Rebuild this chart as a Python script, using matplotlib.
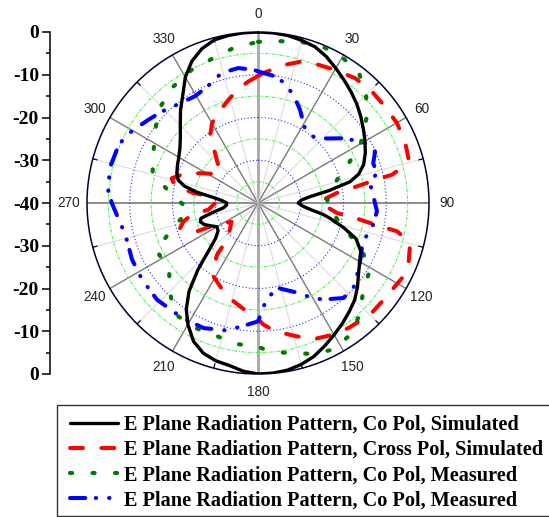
import numpy as np
import matplotlib
matplotlib.use("Agg")
import matplotlib.pyplot as plt
from matplotlib.patches import Rectangle

# ---- E-plane radiation pattern data (angle in degrees, level in dB) ----
co_sim_ang = [0, 5, 10, 15, 20, 25, 30, 35, 40, 45, 50, 55, 60, 65, 70, 74, 77, 80,
              83, 86, 90, 94, 97, 100, 102, 106, 110, 115, 120, 125, 130, 135, 140,
              145, 150, 155, 160, 165, 170, 175, 180, 185, 190, 195, 200, 205, 210,
              214, 218, 222, 226, 230, 235, 240, 244, 248, 252, 255, 258, 262, 266,
              270, 274, 277, 280, 283, 286, 290, 295, 300, 305, 310, 315, 320, 325,
              330, 335, 340, 345, 350, 355, 360]
co_sim_db = [0, -0.05, -0.2, -0.6, -1.1, -2.2, -3.6, -4.9, -6.1, -7.3, -8.6, -9.9, -11.1,
             -12.3, -13.7, -15.5, -17.9, -23, -27.7, -29.8, -30.6, -29.5, -27.7, -24.5,
             -22.8, -19.2, -15.6, -13.5, -12.5, -11.3, -9.6, -8, -6.8, -5.6, -4.4, -3.1,
             -1.8, -0.9, -0.3, -0.05, 0, -0.5, -1.4, -1.8, -2.6, -4.3, -7.2, -10, -13.8,
             -19, -24, -27, -28.6, -28.9, -27.8, -26.5, -25.8, -26.2, -29, -31.8, -32.6,
             -32.7, -31.5, -29.5, -25.5, -22.3, -20.6, -19.8, -19.2, -18.6, -17.7, -16.3,
             -14.3, -11.8, -9.3, -6, -3.4, -1.6, -0.5, -0.2, -0.05, 0]

cross_sim_ang = [0, 2.3, 10.5, 16.7, 23.7, 30.2, 38, 45.7, 52.9, 60.2, 67.9, 73.5, 76,
                 78.1, 78.8, 80.5, 81.9, 86, 90, 93, 97.2, 98.8, 100.5, 101.5, 104.7,
                 111.7, 117.5, 127.6, 134.8, 144.1, 150.1, 157.8, 163.7, 172.3, 177.4,
                 178.9, 188.7, 195, 201.3, 211.2, 215, 218.4, 220.2, 227, 234.6, 242.9,
                 245.1, 252, 256, 260, 262.3, 270, 277.8, 278.8, 282, 286, 292.1, 298.5,
                 303, 308, 314, 319.3, 324.2, 330, 334.9, 344, 350, 355.4, 360]
cross_sim_db = [-10.3, -9.6, -7.2, -5.5, -4.7, -4.0, -3.0, -2.7, -2.7, -2.5, -2.8, -3.3, -5,
                -8, -12, -16.6, -20.6, -24, -25.5, -24, -21.4, -16.9, -12.1, -6.8, -3.2,
                -2.1, -2.0, -2.9, -3.0, -3.9, -4.5, -5.6, -7.5, -9.7, -11.5, -12.3, -15.2,
                -16.5, -17.8, -19.9, -22, -24.6, -28.8, -31, -32.4, -28.7, -24.2, -20.8,
                -22, -24.3, -28.3, -30, -28.7, -24.7, -20, -19, -21.6, -25.4, -27.5, -28.7,
                -27, -24.6, -20.8, -18.5, -17.2, -14.9, -13, -11.5, -10.3]

co_meas_ang = [0, 6.6, 13.8, 21.2, 29.4, 38.1, 45.3, 52, 59.9, 66.5, 76.4, 84, 92.2, 105.7,
               114, 120.8, 129.7, 137, 144, 153.1, 160.6, 168, 175.6, 180.5, 189.3, 198.4,
               207.9, 217.7, 226, 232.8, 245.4, 252.8, 264.5, 276.5, 285.5, 295.5, 304.4,
               312.9, 322.6, 333.5, 343, 351, 360]
co_meas_db = [-2.3, -1.9, -1.1, -0.35, -0.5, -1.6, -4.4, -7.8, -12.2, -16.9, -21.8, -23.5,
              -23.9, -19.3, -13.6, -9.5, -8, -5, -2.4, -1.5, -2.6, -4.1, -5.2, -6.5, -6.6,
              -7.5, -7.2, -7.6, -11.3, -13.9, -13.8, -18.9, -23.7, -19.4, -14.4, -12.9,
              -10.8, -8.2, -6.4, -5.2, -4.5, -3.3, -2.3]

co_meas2_ang = [0, 7.6, 12.7, 18.9, 24.3, 32.2, 41.4, 47.4, 53.4, 60.8, 66.3, 71, 75.8, 80,
                87.5, 94, 102.4, 110.2, 117.4, 123.5, 131.3, 138, 145.8, 150.5, 155.7,
                166.4, 174.6, 180, 185.2, 193.7, 203.5, 213.5, 226.2, 236.5, 245.8, 256.6,
                263.2, 270, 275, 283.8, 293, 299.5, 307.2, 313.7, 320.4, 329.4, 336.5,
                344.4, 351.7, 358, 360]
co_meas2_db = [-9.2, -10.1, -11.3, -13.7, -16.1, -19.4, -19.8, -17.7, -14.6, -11.3, -10.1,
               -11.5, -11.3, -13.4, -12.9, -12.1, -12.7, -13.9, -12.9, -11.8, -10.2, -10.1,
               -12.7, -14.5, -16.9, -19.5, -17.7, -12.3, -11.4, -9.3, -8.1, -7.8, -7.3,
               -7.5, -7.7, -8.1, -7.2, -5.8, -4.8, -4.4, -4.7, -6, -7.8, -9, -10.2, -11,
               -10.3, -8.4, -8.1, -8.8, -9.2]

series_labels = ["E Plane Radiation Pattern, Co Pol, Simulated",
                 "E Plane Radiation Pattern, Cross Pol, Simulated",
                 "E Plane Radiation Pattern, Co Pol, Measured",
                 "E Plane Radiation Pattern, Co Pol, Measured"]

angle_ticks = list(range(0, 360, 30))
radial_ticks = [-40, -30, -20, -10, 0, 10, 20, 30, 40]
radial_tick_labels = ["0", "-10", "-20", "-30", "-40", "-30", "-20", "-10", "0"]
ring_levels = [-35, -30, -25, -20, -15, -10, -5]

W, H = 549, 517
fig = plt.figure(figsize=(W / 100, H / 100), dpi=100)
fig.patch.set_facecolor("white")

cx, cy, R = 258, 203, 171
ax = fig.add_axes([(cx - R) / W, (H - cy - R) / H, 2 * R / W, 2 * R / H],
                  projection="polar")
ax.set_theta_zero_location("N")
ax.set_theta_direction(-1)
ax.set_ylim(-40, 0)
ax.grid(False)
ax.set_xticks([])
ax.set_yticks([])
ax.spines["polar"].set_color("#000033")
ax.spines["polar"].set_linewidth(1.1)

# spokes
for a in range(0, 360, 15):
    t = np.deg2rad(a)
    if a % 180 == 0:
        ax.plot([t, t], [-40, 0], color="#a8a8a8", lw=2.0, zorder=1)
    elif a % 90 == 0:
        ax.plot([t, t], [-40, 0], color="#6e6e6e", lw=1.1, zorder=1)
    elif a % 30 == 0:
        ax.plot([t, t], [-40, 0], color="#7a7a7a", lw=1.0, zorder=1)
    else:
        ax.plot([t, t], [-40, 0], color="#dcdcdc", lw=0.8, zorder=1)
        ax.plot([t, t], [-1.0, 0], color="#000033", lw=0.9, zorder=1)

# grid rings
tt = np.linspace(0, 2 * np.pi, 721)
for i, lev in enumerate(ring_levels):
    if i % 2 == 0:
        ax.plot(tt, np.full_like(tt, lev), color="#55ee55", lw=0.8,
                linestyle=(0, (3, 1.2, 1, 1.2)), zorder=1)
    else:
        ax.plot(tt, np.full_like(tt, lev), color="#2a2aff", lw=0.8,
                linestyle=(0, (1, 2)), zorder=1)

# angle labels
for a in angle_ticks:
    ax.text(np.deg2rad(a), 4.2, str(a), ha="center", va="center", fontsize=9.8,
            family="Liberation Sans", color="#222222", clip_on=False)

# curves
l1, = ax.plot(np.deg2rad(co_sim_ang), co_sim_db, color="black", lw=2.4,
              solid_capstyle="round", zorder=5)
l2, = ax.plot(np.deg2rad(cross_sim_ang), cross_sim_db, color="#ff0000", lw=2.9,
              linestyle=(0, (3.2, 4.6)), dash_capstyle="round", zorder=4)
l3, = ax.plot(np.deg2rad(co_meas_ang), co_meas_db, color="#007a00", lw=3.0,
              linestyle=(0, (0.5, 4.9)), dash_capstyle="round", zorder=4)
l4, = ax.plot(np.deg2rad(co_meas2_ang), co_meas2_db, color="#0000ff", lw=2.9,
              linestyle=(0, (3.8, 2.6, 0.1, 3.2, 0.1, 3.2)), dash_capstyle="round",
              zorder=4)

# left dB scale
axl = fig.add_axes([50 / W, (H - cy - R) / H, 0.0005, 2 * R / H])
axl.set_ylim(-40, 40)
axl.patch.set_visible(False)
for s in ["top", "right", "bottom"]:
    axl.spines[s].set_visible(False)
axl.spines["left"].set_linewidth(1.1)
axl.set_xticks([])
axl.set_yticks(radial_ticks)
axl.set_yticklabels(radial_tick_labels, family="Liberation Serif", weight="bold",
                    fontsize=14)
axl.set_yticks(np.arange(-35, 40, 10), minor=True)
axl.tick_params(axis="y", which="major", length=6, width=1.1, pad=2, direction="out")
axl.tick_params(axis="y", which="minor", length=2.6, width=1.1, direction="out")

# legend with its own frame
fig.add_artist(Rectangle((57 / W, 1 / H), 500 / W, 111 / H, transform=fig.transFigure,
                         facecolor="white", edgecolor="#333333", lw=1.0, zorder=10))
leg = fig.legend([l1, l2, l3, l4], series_labels, loc="upper left",
                 bbox_to_anchor=(70 / W, 1 - 415 / H),
                 prop={"family": "Liberation Serif", "weight": "bold", "size": 14.6},
                 frameon=False, handlelength=2.35, handletextpad=0.3, borderpad=0.0,
                 labelspacing=0.25, borderaxespad=0.0)
leg.set_zorder(11)

fig.savefig("out.png", dpi=100, facecolor="white")
